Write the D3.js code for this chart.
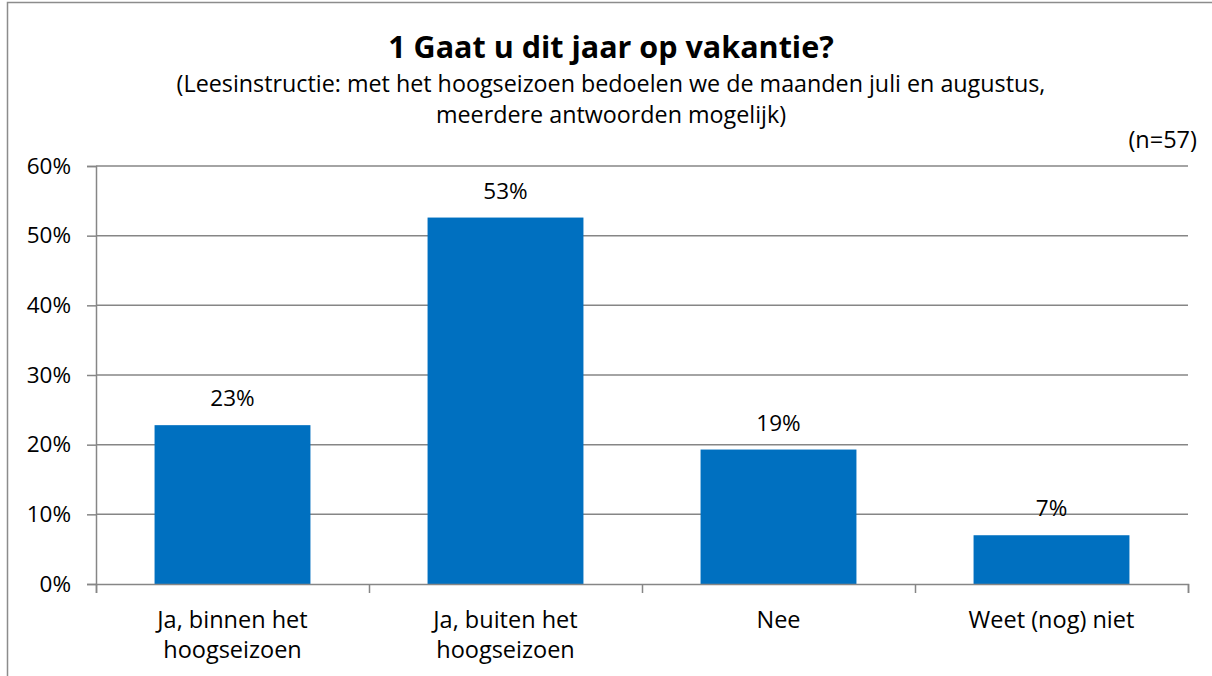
<!DOCTYPE html>
<html>
<head>
<meta charset="utf-8">
<script src="https://cdn.jsdelivr.net/npm/d3@7"></script>
<style>
  html, body { margin: 0; padding: 0; background: #fff; }
  svg { display: block; }
  text { font-family: "Open Sans", Lato, sans-serif; fill: #000; }
</style>
</head>
<body>
<svg id="chart" width="1212" height="676"></svg>
<script>
const categories = [["Ja, binnen het", "hoogseizoen"], ["Ja, buiten het", "hoogseizoen"], ["Nee"], ["Weet (nog) niet"]];
const values = [0.228, 0.526, 0.193, 0.070];
const valueLabels = ["23%", "53%", "19%", "7%"];
const yTicks = [0, 0.1, 0.2, 0.3, 0.4, 0.5, 0.6];
const title = "1 Gaat u dit jaar op vakantie?";
const subtitle = ["(Leesinstructie: met het hoogseizoen bedoelen we de maanden juli en augustus,", "meerdere antwoorden mogelijk)"];
const note = "(n=57)";

const svg = d3.select("#chart");
const plot = { left: 96, right: 1188, top: 166, bottom: 584 };
const gridColor = "#868686";
const FF = "Open Sans";

svg.append("rect").attr("x", 7.5).attr("y", 2.5).attr("width", 1230).attr("height", 700)
  .attr("fill", "none").attr("stroke", "#8c8c8c").attr("stroke-width", 1.5);

const x = d3.scaleBand().domain(d3.range(categories.length)).range([plot.left, plot.right]).padding(0);
const y = d3.scaleLinear().domain([0, 0.6]).range([plot.bottom, plot.top]);
const barW = x.bandwidth() * 0.571;

// gridlines
svg.append("g").selectAll("line").data(yTicks.filter(d => d > 0)).join("line")
  .attr("x1", plot.left).attr("x2", plot.right)
  .attr("y1", d => y(d)).attr("y2", d => y(d))
  .attr("stroke", gridColor).attr("stroke-width", 1.5);

// bars
svg.append("g").selectAll("rect").data(values).join("rect")
  .attr("x", (d, i) => x(i) + (x.bandwidth() - barW) / 2)
  .attr("width", barW)
  .attr("y", d => y(d))
  .attr("height", d => y(0) - y(d))
  .attr("fill", "#0070C0");

// y axis
const yAxis = d3.axisLeft(y).tickValues(yTicks).tickFormat(d3.format(".0%")).tickSize(9).tickPadding(16);
const gy = svg.append("g").attr("transform", `translate(${plot.left},0)`).call(yAxis);
gy.select(".domain").attr("stroke", gridColor).attr("stroke-width", 1.5);
gy.selectAll(".tick line").attr("stroke", gridColor).attr("stroke-width", 1.5);
gy.selectAll(".tick text").attr("font-size", 22.5).attr("font-family", FF).attr("fill", "#000");

// x axis
const xBound = d3.scaleLinear().domain([0, categories.length]).range([plot.left, plot.right]);
const xAxis = d3.axisBottom(xBound).tickValues(d3.range(categories.length + 1)).tickFormat("").tickSize(9);
const gx = svg.append("g").attr("transform", `translate(0,${plot.bottom})`).call(xAxis);
gx.select(".domain").attr("stroke", gridColor).attr("stroke-width", 1.5);
gx.selectAll(".tick line").attr("stroke", gridColor).attr("stroke-width", 1.5);

// category labels
const cl = svg.append("g").selectAll("text").data(categories).join("text")
  .attr("text-anchor", "middle").attr("font-size", 23.5)
  .attr("x", (d, i) => x(i) + x.bandwidth() / 2)
  .attr("y", 628);
cl.selectAll("tspan").data(d => d).join("tspan")
  .attr("x", function () { return this.parentNode.getAttribute("x"); })
  .attr("dy", (d, i) => i === 0 ? 0 : 30)
  .text(d => d);

// value labels
svg.append("g").selectAll("text").data(values).join("text")
  .attr("text-anchor", "middle").attr("font-size", 22.5)
  .attr("x", (d, i) => x(i) + x.bandwidth() / 2)
  .attr("y", d => y(d) - 19)
  .text((d, i) => valueLabels[i]);

// titles
svg.append("text").attr("x", 611).attr("y", 58).attr("text-anchor", "middle")
  .attr("font-size", 30.5).attr("font-weight", "bold").text(title);
svg.append("g").selectAll("text").data(subtitle).join("text")
  .attr("x", 611).attr("y", (d, i) => 92 + i * 31).attr("text-anchor", "middle")
  .attr("font-size", 23.3).text(d => d);
svg.append("text").attr("x", 1197).attr("y", 148).attr("text-anchor", "end")
  .attr("font-size", 23.5).text(note);
</script>
</body>
</html>
